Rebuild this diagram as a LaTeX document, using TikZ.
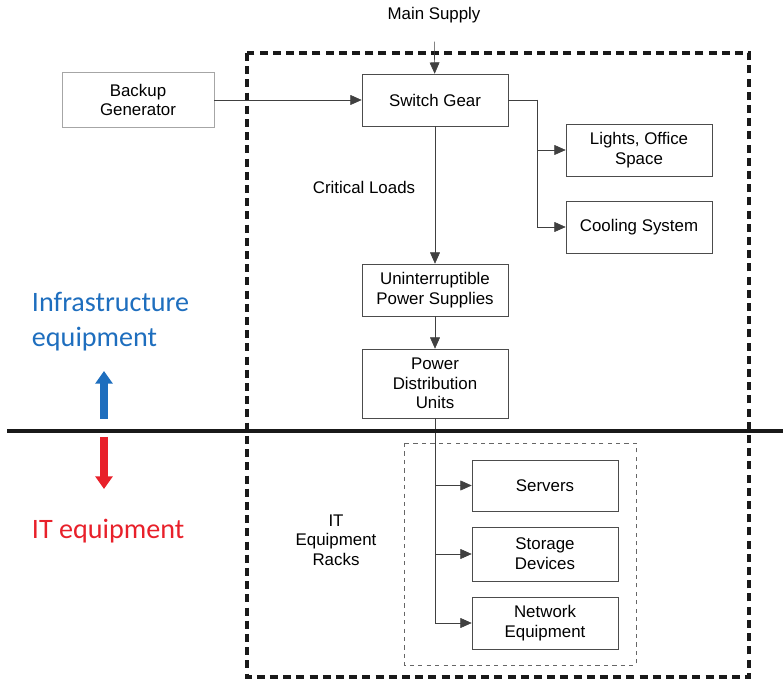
\documentclass[tikz,border=0pt]{standalone}
\usepackage{fontspec}
\setmainfont{Liberation Sans}
\newfontfamily\calib{Carlito}
\usetikzlibrary{arrows.meta}

\definecolor{infrablue}{RGB}{30,110,190}
\definecolor{itred}{RGB}{232,32,42}

\tikzset{
	box/.style={draw=black!70, minimum width=3.65cm, minimum height=1.3cm, align=center, font=\fontsize{12}{14}\selectfont},
	txt/.style={align=center, font=\fontsize{12}{14}\selectfont},
	flow/.style={draw=black!75, -{Triangle[length=8pt,width=7pt]}},
	side/.style={align=left, anchor=west, font=\calib\fontsize{20}{25}\selectfont}
}

\begin{document}
\begin{tikzpicture}[x=0.025cm, y=-0.025cm]
			\useasboundingbox (0,0) rectangle (783,681);
			
			%frames
			\draw[line width=2.2pt, dash pattern=on 0.2cm off 0.13cm, black!90] (247,53) rectangle (749,677);
			\draw[dashed, black!60, thin] (404,443) rectangle (636,665);
			
			%supply side
			\node[txt, outer ysep=10pt] (supply) at (434,15) {Main Supply};
			\node[box] (switch) at (435,100) {Switch Gear};
			\node[box, draw=black!35, minimum width=3.8cm, minimum height=1.375cm] (backup) at (138,100) {Backup\\Generator};
			\node[box] (lights) at (639,150) {Lights, Office\\Space};
			\node[box] (cooling) at (639,227) {Cooling System};
			\node[txt] (critical) at (364,187) {Critical Loads};
			\node[box] (ups) at (435,290) {Uninterruptible\\Power Supplies};
			\node[box, minimum height=1.725cm] (pdu) at (435,383.5) {Power\\Distribution\\Units};
			
			\draw[flow] (supply) -- (switch);
			\draw[flow] (backup) -- (switch);
			\draw[draw=black!75] (switch.east) -- ++(29,0) coordinate (bus);
			\draw[flow] (bus) |- (lights);
			\draw[flow] (bus) |- (cooling);
			\draw[flow] (switch) -- (ups);
			\draw[flow] (ups) -- (pdu);
			
			%racks
			\node[box, minimum height=1.275cm] (servers) at (545,485.5) {Servers};
			\node[box, minimum height=1.35cm] (storage) at (545,554) {Storage\\Devices};
			\node[box] (network) at (545,623) {Network\\Equipment};
			\node[txt] (racks) at (336,540) {IT\\Equipment\\Racks};
			
			\foreach \rack in {servers, storage, network}{
				\draw[flow] (pdu.south) |- (\rack);
			}
			
			%divider
			\coordinate (divl) at (7,431);
			\coordinate (divr) at (783,431);
			\draw[line width=2.2pt, black!90] (divl) -- (divr);
			
			\coordinate (upfoot) at (104,419);
			\coordinate (uptip) at (104,371);
			\coordinate (downfoot) at (104,437);
			\coordinate (downtip) at (104,489);
			\draw[infrablue, line width=5.6pt, -{Triangle[length=9pt,width=12pt]}] (upfoot) -- (uptip);
			\draw[itred, line width=5.6pt, -{Triangle[length=9pt,width=12pt]}] (downfoot) -- (downtip);
			
			\node[side, text=infrablue] (infra) at (27,321.5) {Infrastructure\\equipment};
			\node[side, text=itred] (itlabel) at (27,531) {IT equipment};
		\end{tikzpicture}
\end{document}
